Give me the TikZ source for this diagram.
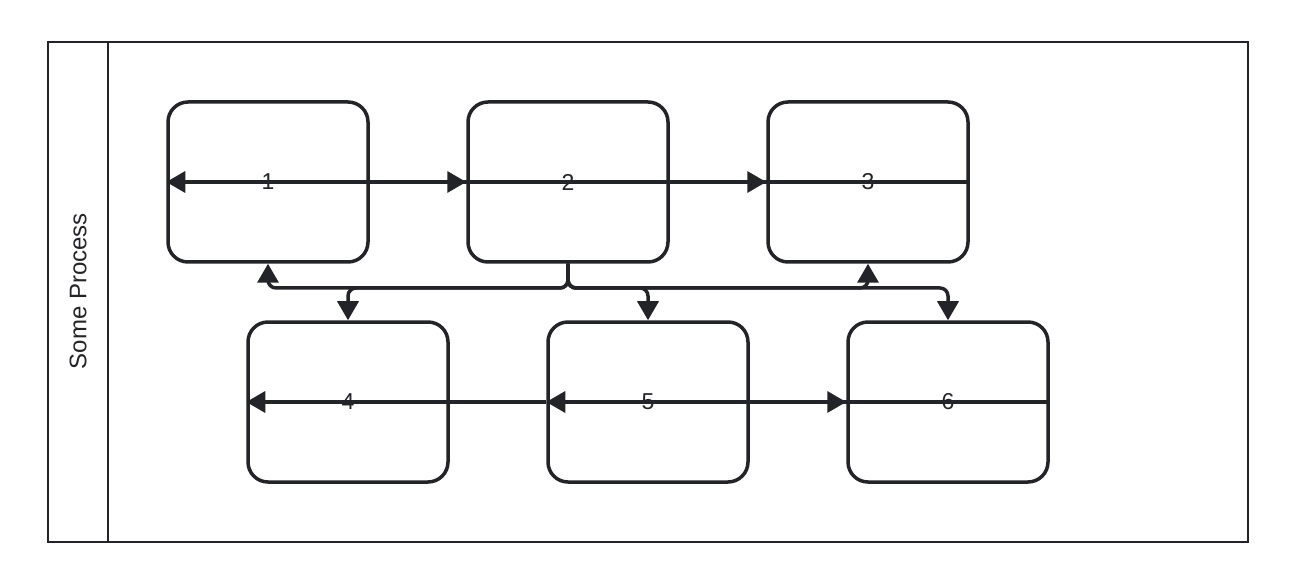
\documentclass[tikz,border=0pt]{standalone}
\usepackage{fontspec}
\setmainfont{Liberation Sans}
\usetikzlibrary{arrows.meta}
\definecolor{ink}{RGB}{35,36,40}
\begin{document}
\begin{tikzpicture}[x=1pt,y=-1pt,
  lane/.style={draw=ink,line width=2pt},
  box/.style={draw=ink,line width=3.5pt,rounded corners=20pt,minimum width=200pt,minimum height=160pt,inner sep=0pt,text=ink,font=\fontsize{23}{27}\selectfont},
  conn/.style={draw=ink,line width=3.5pt,-{Triangle[length=19pt,width=21pt]}},
  lbl/.style={text=ink,font=\fontsize{24}{28}\selectfont,rotate=90}
]
\useasboundingbox (0,0) rectangle (1294,588);
\draw[lane] (48,42) rectangle (1248,542);
\draw[lane] (108,42) -- (108,542);
\node[lbl] (title) at (78,291) {Some Process};
\node[box] (b1) at (268,182) {1};
\node[box] (b2) at (568,182) {2};
\node[box] (b3) at (868,182) {3};
\node[box] (b4) at (348,402) {4};
\node[box] (b5) at (648,402) {5};
\node[box] (b6) at (948,402) {6};
% row 1
\draw[conn] (b3.east) -- (b1.west);
\draw[conn] (b1.east) -- (b2.west);
\draw[conn] (b2.east) -- (b3.west);
% row 2
\draw[conn] (b5.west) -- (b4.west);
\draw[conn] (b6.east) -- (b5.west);
\draw[conn] (b5.east) -- (b6.west);
% between rows
\coordinate (j) at (568,288);
\foreach \t/\a in {b1/south,b3/south,b4/north,b5/north,b6/north}{
  \draw[conn,rounded corners=8pt] (b2.south) -- (b2.south |- j) -| (\t.\a);
}
\end{tikzpicture}
\end{document}
